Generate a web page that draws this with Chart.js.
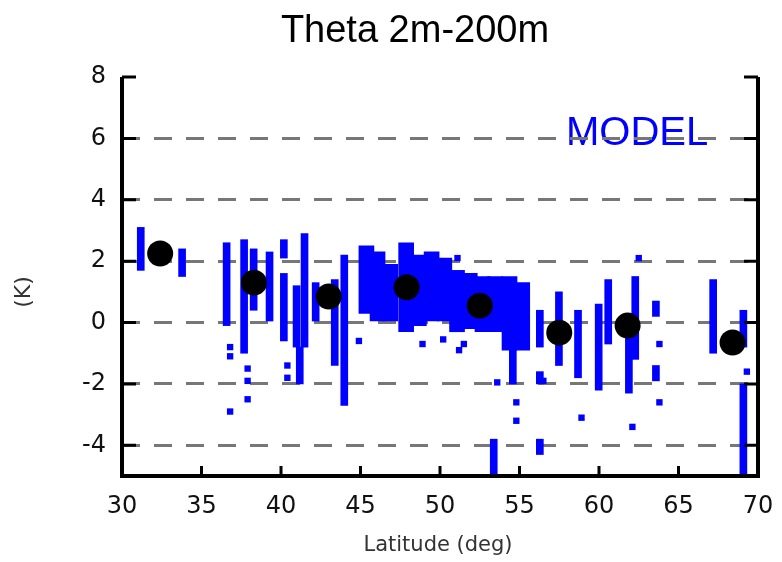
<!DOCTYPE html>
<html><head><meta charset="utf-8">
<script src="https://cdn.jsdelivr.net/npm/chart.js@4"></script>
<style>html,body{margin:0;padding:0;background:#fff}#w{width:782px;height:562px}</style>
</head><body><div id="w"><canvas id="c" width="782" height="562"></canvas></div>
<script>
const xTicks=[30,35,40,45,50,55,60,65,70];
const yTicks=[-4,-2,0,2,4,6,8];
// narrow columns: [lat, low, high]
const colLat=[31.4,34.0,36.8,37.9,38.5,39.5,40.4,40.4,41.2,41.7,41.4,42.4,43.6,44.2,54.8,53.6,56.5,56.5,56.5,57.7,58.9,60.2,60.8,62.1,62.5,63.8,63.8,67.4,69.3,69.3];
const colLow=[1.7,1.5,-0.1,-1.0,0.4,0.0,2.1,-0.6,-0.8,-0.8,-2.0,0.0,-1.4,-2.7,-2.0,-5,-0.8,-2.0,-4.3,-1.4,-1.8,-2.2,-0.7,-2.3,-1.2,0.2,-1.9,-1.0,-0.8,-5];
const colHigh=[3.1,2.4,2.6,2.7,2.4,2.3,2.7,1.6,1.2,2.9,-0.8,1.3,1.4,2.2,-0.9,-3.8,0.4,-1.6,-3.8,1.0,0.4,0.6,1.4,-0.3,1.5,0.7,-1.4,1.4,0.4,-2.0];
// dense band
const bandLat=[44.9,45.6,46.4,47.4,48.2,49.0,49.8,50.6,51.4,52.2,53.0,53.9,54.7];
const bandLow=[0.3,0.0,0.0,-0.3,-0.1,0.0,0.0,-0.3,-0.2,-0.3,-0.3,-0.9,-0.9];
const bandHigh=[2.5,2.3,1.9,2.6,2.2,2.3,2.1,1.7,1.6,1.5,1.5,1.5,1.3];
// isolated points
const ptLat=[36.8,36.8,36.8,37.9,37.9,37.9,40.4,40.4,53.6,54.8,54.8,58.9,62.1,62.5,63.8,63.8,69.3,48.9,51.1,50.2,51.5,51.2,44.9,56.5];
const ptVal=[-0.8,-1.1,-2.9,-1.5,-1.9,-2.5,-1.4,-1.8,-1.95,-2.6,-3.2,-3.1,-3.4,2.1,-0.7,-2.6,-1.6,-0.7,2.1,-0.55,-0.7,-0.9,-0.6,-1.9];
// means
const meanLat=[32.4,38.3,43.0,47.9,52.5,57.5,61.8,68.4];
const meanVal=[2.25,1.3,0.85,1.15,0.55,-0.33,-0.1,-0.65];

const BLUE='#0000ff';
const ctx=document.getElementById('c').getContext('2d');
const deco={id:'deco',
 beforeDraw(ch){const c=ch.ctx;c.save();c.fillStyle=BLUE;c.font='40px "Liberation Sans",Arial';c.textAlign='left';c.textBaseline='middle';c.fillText('MODEL',566,134);c.restore();},
 afterDraw(ch){const c=ch.ctx,a=ch.chartArea,x=ch.scales.x,y=ch.scales.y;c.save();
  c.strokeStyle='#000';c.lineWidth=4;c.beginPath();c.moveTo(a.left,a.top);c.lineTo(a.left,a.bottom);c.lineTo(a.right,a.bottom);c.lineTo(a.right,a.top);c.stroke();
  c.lineWidth=3;c.beginPath();
  yTicks.forEach(v=>{const p=y.getPixelForValue(v);c.moveTo(a.left,p);c.lineTo(a.left+14,p);c.moveTo(a.right,p);c.lineTo(a.right-14,p);});
  xTicks.forEach(v=>{const p=x.getPixelForValue(v);c.moveTo(p,a.bottom);c.lineTo(p,a.bottom-10);});
  c.stroke();
  c.fillStyle='#000';c.font='38px "Liberation Sans",Arial';c.textAlign='center';c.textBaseline='middle';c.fillText('Theta 2m-200m',415,32);
  c.fillStyle='#333';c.font='21px "DejaVu Sans"';c.fillText('Latitude (deg)',438,546);
  c.translate(24,292);c.rotate(-Math.PI/2);c.font='22px "DejaVu Sans"';c.fillText('(K)',0,0);
  c.restore();}};
new Chart(ctx,{
 data:{datasets:[
  {type:'bar',data:bandLat.map((l,i)=>({x:l,y:[bandLow[i],bandHigh[i]]})),backgroundColor:BLUE,barThickness:15,order:3},
  {type:'bar',data:colLat.map((l,i)=>({x:l,y:[colLow[i],colHigh[i]]})),backgroundColor:BLUE,barThickness:7,order:2},
  {type:'scatter',data:ptLat.map((l,i)=>({x:l,y:ptVal[i]})),backgroundColor:BLUE,borderWidth:0,pointRadius:4.5,pointStyle:'rect',order:1},
  {type:'scatter',data:meanLat.map((l,i)=>({x:l,y:meanVal[i]})),backgroundColor:'#000',borderWidth:0,pointRadius:13,order:0}
 ]},
 options:{responsive:false,animation:false,
  layout:{padding:{top:77,right:24,left:0,bottom:0}},
  plugins:{legend:{display:false},tooltip:{enabled:false}},
  scales:{
   x:{type:'linear',min:30,max:70,offset:false,afterFit(s){s.height=86;},afterBuildTicks(s){s.ticks=xTicks.map(v=>({value:v}));},
      grid:{display:false,offset:false},border:{display:false},ticks:{color:'#111',font:{family:'DejaVu Sans',size:24},padding:8,maxRotation:0}},
   y:{min:-5,max:8,afterFit(s){s.width=122;},afterBuildTicks(s){s.ticks=yTicks.map(v=>({value:v}));},
      grid:{color:c=>c.tick&&c.tick.value===8?'rgba(0,0,0,0)':'#777',lineWidth:3,drawTicks:false},border:{display:false,dash:[18,14]},
      ticks:{color:'#111',font:{family:'DejaVu Sans',size:24},padding:16}}
  }},
 plugins:[deco]});
</script></body></html>
